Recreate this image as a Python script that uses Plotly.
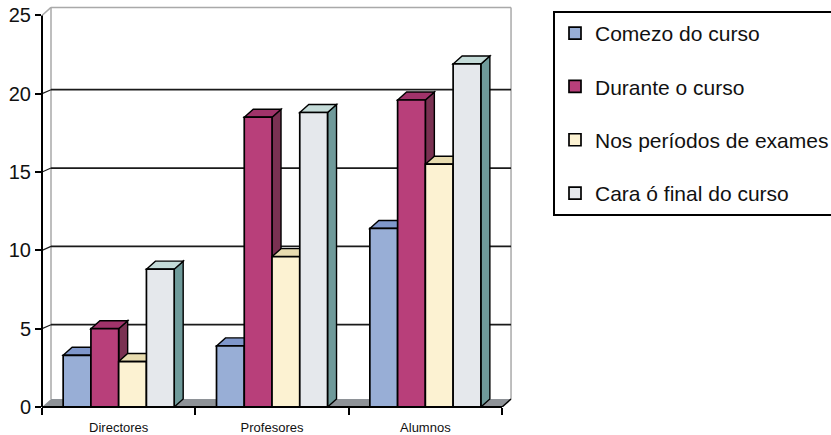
import plotly.graph_objects as go

# ---------------- data ----------------
categories = ["Directores", "Profesores", "Alumnos"]
series_names = ["Comezo do curso", "Durante o curso",
                "Nos períodos de exames", "Cara ó final do curso"]
comezo = [3.3, 3.9, 11.4]
durante = [5.0, 18.5, 19.6]
exames = [2.9, 9.6, 15.5]
final_curso = [8.8, 18.8, 21.9]
y_ticks = [0, 5, 10, 15, 20, 25]

series_values = [comezo, durante, exames, final_curso]

# ---------------- style ----------------
front_cols = ["#98AED6", "#B83F7A", "#FCF2D2", "#E5E8EC"]
top_cols = ["#7F97CB", "#A0336A", "#E8DCB0", "#C4DBD8"]
side_cols = ["#5E6F9A", "#7A3152", "#CDBF90", "#6F9A9A"]
FLOOR_COL = "#8E9297"
WALL_COL = "#A9A9A9"
FONT = "Liberation Sans, Arial, sans-serif"

W, H = 831, 435
ML, MR, MT, MB = 42, 319, 6, 28
plot_w = W - ML - MR
plot_h = H - MT - MB
X_RANGE = [-0.5, 2.565]
Y_RANGE = [0, 25.6]
DX_PX, DY_PX, GRID_PX = 9, 8, 4
dxu = DX_PX * (X_RANGE[1] - X_RANGE[0]) / plot_w
dyu = DY_PX * (Y_RANGE[1] - Y_RANGE[0]) / plot_h
gu = GRID_PX * (Y_RANGE[1] - Y_RANGE[0]) / plot_h
BAR_W = 0.181
n = len(series_values)
xs = list(range(len(categories)))

fig = go.Figure()
for i, (name, vals) in enumerate(zip(series_names, series_values)):
    fig.add_trace(go.Bar(
        x=xs, y=vals, name=name, width=BAR_W,
        offset=-n / 2 * BAR_W + i * BAR_W,
        marker=dict(color=front_cols[i], line=dict(color="black", width=1.7)),
        legendgroup=f"g{i}", hoverinfo="skip"))

shapes = []
xl0, xr0 = -0.5, 2.5
# floor
shapes.append(dict(type="path", xref="x", yref="y", layer="below",
                   path=f"M{xl0},0 L{xr0},0 L{xr0+dxu},{dyu} L{xl0+dxu},{dyu} Z",
                   fillcolor=FLOOR_COL, line=dict(width=0)))
top_wall = y_ticks[-1] + dyu
# back-wall borders
for (a, b, c, d) in [(xl0 + dxu, dyu, xl0 + dxu, top_wall),
                     (xr0 + dxu, dyu, xr0 + dxu, top_wall),
                     (xl0 + dxu, top_wall, xr0 + dxu, top_wall),
                     (xl0, y_ticks[-1], xl0 + dxu, top_wall)]:
    shapes.append(dict(type="line", xref="x", yref="y", layer="below",
                       x0=a, y0=b, x1=c, y1=d, line=dict(color=WALL_COL, width=1.5)))
# gridlines on back wall
for v in y_ticks[1:-1]:
    shapes.append(dict(type="line", xref="x", yref="y", layer="below",
                       x0=xl0 + dxu, y0=v + gu, x1=xr0 + dxu, y1=v + gu,
                       line=dict(color="#1a1a1a", width=1.8)))
    shapes.append(dict(type="line", xref="x", yref="y", layer="below",
                       x0=xl0, y0=v, x1=xl0 + dxu, y1=v + gu,
                       line=dict(color="#1a1a1a", width=1.2)))
# 3D faces of bars
for j in xs:
    for i, vals in enumerate(series_values):
        v = vals[j]
        xl = j - n / 2 * BAR_W + i * BAR_W
        xr = xl + BAR_W
        shapes.append(dict(type="path", xref="x", yref="y", layer="below",
                           path=f"M{xr},0 L{xr+dxu},{dyu} L{xr+dxu},{v+dyu} L{xr},{v} Z",
                           fillcolor=side_cols[i], line=dict(color="black", width=1.4)))
        shapes.append(dict(type="path", xref="x", yref="y", layer="below",
                           path=f"M{xl},{v} L{xl+dxu},{v+dyu} L{xr+dxu},{v+dyu} L{xr},{v} Z",
                           fillcolor=top_cols[i], line=dict(color="black", width=1.4)))
# axis lines
shapes.append(dict(type="line", xref="x", yref="paper", layer="above",
                   x0=xl0, y0=0, x1=xr0, y1=0, line=dict(color="black", width=2)))
shapes.append(dict(type="line", xref="x", yref="y", layer="above",
                   x0=xr0, y0=0, x1=xr0 + dxu, y1=dyu, line=dict(color="black", width=1.5)))
shapes.append(dict(type="line", xref="paper", yref="y", layer="above",
                   x0=0, y0=0, x1=0, y1=y_ticks[-1], line=dict(color="black", width=2)))

fig.update_layout(
    width=W, height=H,
    margin=dict(l=ML, r=MR, t=MT, b=MB, pad=0, autoexpand=False),
    paper_bgcolor="white", plot_bgcolor="white",
    barmode="group",
    shapes=shapes,
    font=dict(family=FONT, color="#111111"),
    showlegend=True,
    legend=dict(
        x=(553 - ML) / plot_w, xanchor="left",
        y=1 - 5 / plot_h, yanchor="top",
        bgcolor="white", bordercolor="black", borderwidth=2,
        font=dict(family=FONT, size=21, color="#111111"),
        traceorder="grouped", tracegroupgap=23,
    ),
    xaxis=dict(range=X_RANGE, tickvals=xs, ticktext=categories, ticks="",
               automargin=False,
               showgrid=False, zeroline=False, showline=False,
               tickfont=dict(family=FONT, size=13, color="#111111"),
               ticklabelstandoff=11,
               minor=dict(tickvals=[-0.5, 0.5, 1.5, 2.5], ticks="outside",
                          ticklen=7, tickwidth=2, tickcolor="black", showgrid=False)),
    yaxis=dict(range=Y_RANGE, tickvals=y_ticks, ticks="outside", ticklen=6,
               automargin=False,
               tickwidth=2, tickcolor="black", showgrid=False, zeroline=False,
               showline=False, tickfont=dict(family=FONT, size=20, color="#111111")),
)

fig.write_html("out.html",
               config={"displayModeBar": False},
               post_script="document.body.style.margin='0';document.body.style.padding='0';")
